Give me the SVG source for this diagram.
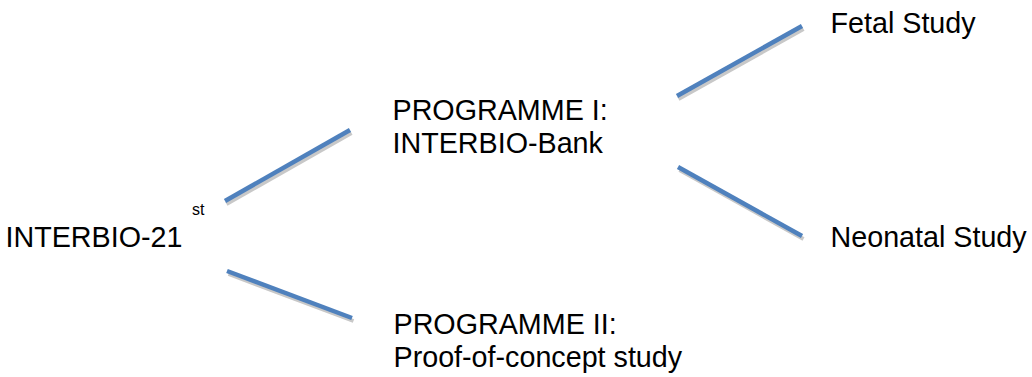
<svg xmlns="http://www.w3.org/2000/svg" width="1032" height="377" viewBox="0 0 1032 377">
<style>
.t{font-family:"Liberation Sans",Arial,sans-serif;font-size:28.7px;fill:#000}
.sup{font-family:"Liberation Sans",Arial,sans-serif;font-size:16px;fill:#000}
.sh{stroke:#c8c8c8;stroke-width:4;fill:none}
.ln{stroke:#4f81bd;stroke-width:4.5;fill:none}
</style>
<rect width="1032" height="377" fill="#fff"/>
<g id="connectors">
<g transform="translate(1.5,3)">
<line class="sh" x1="225" y1="201" x2="350" y2="130"/>
<line class="sh" x1="677" y1="96" x2="802" y2="26"/>
<line class="sh" x1="678" y1="167" x2="802" y2="236"/>
<line class="sh" x1="227" y1="271" x2="352" y2="318"/>
</g>
<line class="ln" x1="225" y1="201" x2="350" y2="130"/>
<line class="ln" x1="677" y1="96" x2="802" y2="26"/>
<line class="ln" x1="678" y1="167" x2="802" y2="236"/>
<line class="ln" x1="227" y1="271" x2="352" y2="318"/>
</g>
<g id="root"><text class="t" x="5.5" y="247">INTERBIO-21</text><text class="sup" x="192" y="215">st</text></g>
<g id="prog1"><text class="t" x="392.5" y="120">PROGRAMME I:</text><text class="t" x="392.5" y="153">INTERBIO-Bank</text></g>
<g id="prog2"><text class="t" x="393.5" y="334">PROGRAMME II:</text><text class="t" x="393.5" y="367">Proof-of-concept study</text></g>
<g id="fetal"><text class="t" x="830.5" y="33">Fetal Study</text></g>
<g id="neonatal"><text class="t" x="830.5" y="247">Neonatal Study</text></g>
</svg>
